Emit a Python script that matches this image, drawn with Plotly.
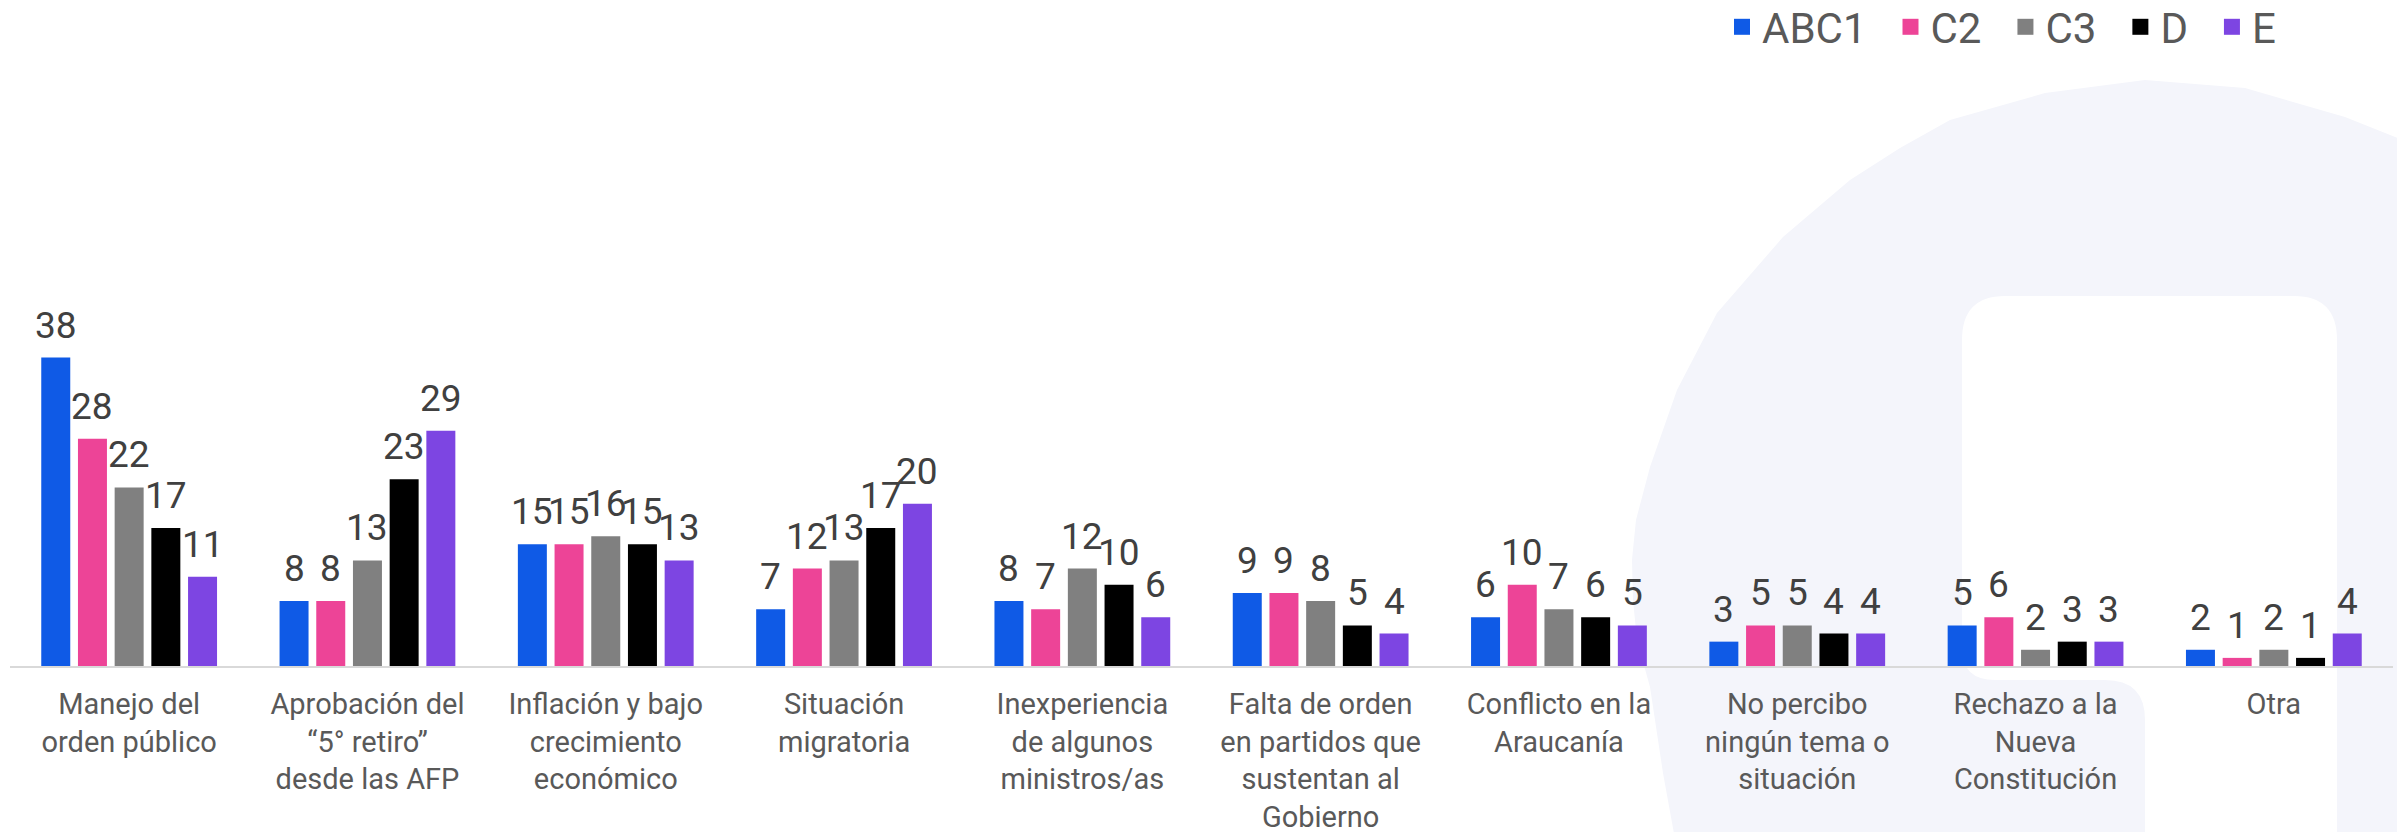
import plotly.graph_objects as go

categories = [
    "Manejo del<br>orden público",
    "Aprobación del<br>“5° retiro”<br>desde las AFP",
    "Inflación y bajo<br>crecimiento<br>económico",
    "Situación<br>migratoria",
    "Inexperiencia<br>de algunos<br>ministros/as",
    "Falta de orden<br>en partidos que<br>sustentan al<br>Gobierno",
    "Conflicto en la<br>Araucanía",
    "No percibo<br>ningún tema o<br>situación",
    "Rechazo a la<br>Nueva<br>Constitución",
    "Otra",
]

series_names = ["ABC1", "C2", "C3", "D", "E"]
abc1 = [38, 8, 15, 7, 8, 9, 6, 3, 5, 2]
c2 = [28, 8, 15, 12, 7, 9, 10, 5, 6, 1]
c3 = [22, 13, 16, 13, 12, 8, 7, 5, 2, 2]
d = [17, 23, 15, 17, 10, 5, 6, 4, 3, 1]
e = [11, 29, 13, 20, 6, 4, 5, 4, 3, 4]
series_values = [abc1, c2, c3, d, e]
colors = ['#0f5ae6', '#ed4497', '#808080', '#000000', '#7d45e2']

FONT = 'Roboto, Arial, sans-serif'
W, H = 2405, 832
OFF = 8  # default body margin of the html page
ML, MR, MT, MB = 2, 20, 293, 174
BARGAP = 0.23

# page pixel -> paper helpers for the watermark / legend
PW = W - ML - MR
PH = H - MT - MB
def px(x):
    return (x - OFF - ML) / PW
def py(y):
    return (OFF + H - MB - y) / PH

fig = go.Figure()

for name, vals, col in zip(series_names, series_values, colors):
    fig.add_trace(go.Bar(
        x=categories, y=vals, name=name,
        marker=dict(color=col, line=dict(width=0)),
        showlegend=False,
        hoverinfo='skip'
    ))
    # legend proxy with a bigger square
    fig.add_trace(go.Scatter(
        x=[None], y=[None], mode='markers', name=name + '\u00a0\u2009',
        marker=dict(symbol='square', size=16, color=col),
        showlegend=True
    ))

# value labels above each bar
slot = (1 - BARGAP) / len(series_names)
annotations = []
for j, vals in enumerate(series_values):
    for i, v in enumerate(vals):
        annotations.append(dict(
            x=i + (j - 2) * slot, y=v, xref='x', yref='y',
            text=str(v), showarrow=False,
            xanchor='center', yanchor='bottom', yshift=9,
            font=dict(size=37, color='#404040', family=FONT)
        ))

# watermark logo (decorative)
outer = [(2420, 147), (2345, 117), (2245, 88), (2145, 80), (2045, 93), (1950, 120),
         (1900, 148), (1850, 180), (1783, 237), (1717, 313), (1677, 390), (1650, 467),
         (1636, 520), (1632, 560), (1633, 600), (1637, 640), (1650, 687), (1663, 773),
         (1677, 850), (2420, 850)]
outer_path = 'M ' + ' L '.join(f'{px(x):.5f},{py(y):.5f}' for x, y in outer) + ' Z'
inner_path = (
    f'M {px(1962):.5f},{py(340):.5f} '
    f'Q {px(1962):.5f},{py(296):.5f} {px(2005):.5f},{py(296):.5f} '
    f'L {px(2294):.5f},{py(296):.5f} '
    f'Q {px(2337):.5f},{py(296):.5f} {px(2337):.5f},{py(340):.5f} '
    f'L {px(2337):.5f},{py(850):.5f} L {px(2145):.5f},{py(850):.5f} '
    f'L {px(2145):.5f},{py(720):.5f} '
    f'Q {px(2145):.5f},{py(680):.5f} {px(2105):.5f},{py(680):.5f} '
    f'L {px(1995):.5f},{py(680):.5f} '
    f'Q {px(1962):.5f},{py(680):.5f} {px(1962):.5f},{py(648):.5f} Z'
)
shapes = [
    dict(type='path', path=outer_path, xref='paper', yref='paper',
         fillcolor='#f4f5fb', line=dict(width=0), layer='below'),
    dict(type='path', path=inner_path, xref='paper', yref='paper',
         fillcolor='#ffffff', line=dict(width=0), layer='below'),
]

fig.update_layout(
    width=W, height=H,
    barmode='group',
    bargap=BARGAP,
    bargroupgap=0.21,
    margin=dict(l=ML, r=MR, t=MT, b=MB, autoexpand=False),
    paper_bgcolor='white',
    plot_bgcolor='rgba(0,0,0,0)',
    font=dict(family=FONT, color='#595959'),
    xaxis=dict(
        type='category',
        showgrid=False,
        showline=True, linecolor='#d9d9d9', linewidth=2,
        ticks='outside', ticklen=11, tickcolor='rgba(0,0,0,0)',
        tickfont=dict(size=29, color='#595959', family=FONT),
        tickangle=0,
        zeroline=False,
    ),
    yaxis=dict(
        range=[0, PH / 8.116],
        visible=False,
        showgrid=False,
        zeroline=False,
    ),
    legend=dict(
        orientation='h',
        x=px(1722), xanchor='left',
        y=py(27), yanchor='middle',
        font=dict(size=42, color='#595959', family=FONT),
        itemsizing='trace',
        bgcolor='rgba(0,0,0,0)',
    ),
    annotations=annotations,
    shapes=shapes,
    showlegend=True,
)

fig.write_html("out.html")
